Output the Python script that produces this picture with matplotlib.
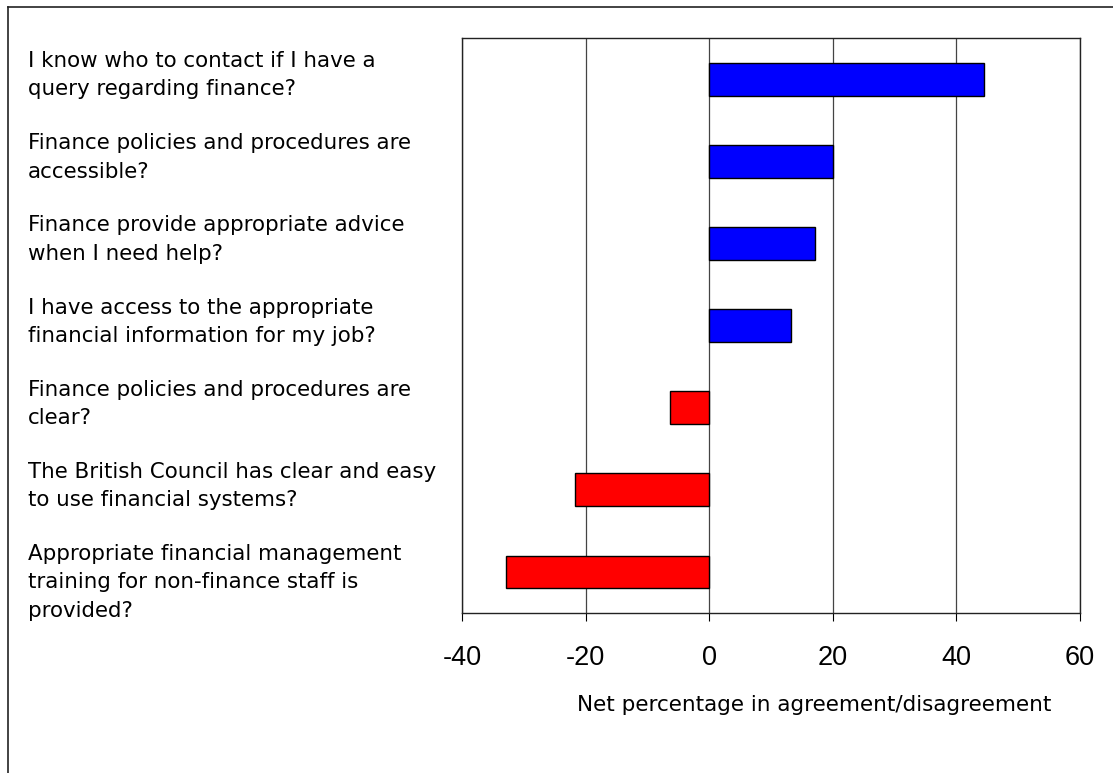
import matplotlib
matplotlib.use("Agg")
from matplotlib import pyplot as plt
from matplotlib.transforms import blended_transform_factory
from matplotlib.lines import Line2D

questions = [
    "I know who to contact if I have a\nquery regarding finance?",
    "Finance policies and procedures are\naccessible?",
    "Finance provide appropriate advice\nwhen I need help?",
    "I have access to the appropriate\nfinancial information for my job?",
    "Finance policies and procedures are\nclear?",
    "The British Council has clear and easy\nto use financial systems?",
    "Appropriate financial management\ntraining for non-finance staff is\nprovided?",
]
net_values = [44.5, 20.0, 17.2, 13.3, -6.3, -21.7, -32.8]
x_ticks = [-40, -20, 0, 20, 40, 60]

W, H = 1113, 773
fig = plt.figure(figsize=(W / 100, H / 100), dpi=100)
ax = fig.add_axes([462 / W, 1 - 613 / H, (1080 - 462) / W, (613 - 38) / H])

ypos = list(range(len(questions)))
colors = ["#0000ff" if v >= 0 else "#ff0000" for v in net_values]
ax.barh(ypos, net_values, height=0.4, color=colors, edgecolor="black",
        linewidth=1, zorder=3)

ax.set_xlim(-40, 60)
ax.set_ylim(len(questions) - 0.5, -0.5)
ax.set_xticks(x_ticks)
ax.set_xticklabels([str(t) for t in x_ticks], fontsize=19.5,
                   family=["Liberation Sans", "DejaVu Sans"])
ax.set_yticks([])
ax.tick_params(axis="x", direction="out", length=6, width=0.8, pad=17,
               colors="black")
ax.grid(True, axis="x", color="#444444", linewidth=0.9, zorder=0)
for s in ax.spines.values():
    s.set_linewidth(1.0)
    s.set_color("#222222")

trans = blended_transform_factory(fig.transFigure, ax.transData)
for y, q in zip(ypos, questions):
    ax.text(28 / W, y - 0.34, q, transform=trans, ha="left", va="top",
            fontsize=15.4, family="DejaVu Sans", linespacing=1.52,
            clip_on=False)

fig.text(814 / W, 1 - 705 / H, "Net percentage in agreement/disagreement",
         ha="center", va="center", fontsize=15.5, family="DejaVu Sans")

# outer frame (top and left edges)
fig.add_artist(Line2D([8 / W, 1], [1 - 7 / H, 1 - 7 / H],
                      transform=fig.transFigure, color="#222222", linewidth=1.2))
fig.add_artist(Line2D([8 / W, 8 / W], [0, 1 - 7 / H],
                      transform=fig.transFigure, color="#222222", linewidth=1.2))

plt.savefig("out.png", dpi=100)
